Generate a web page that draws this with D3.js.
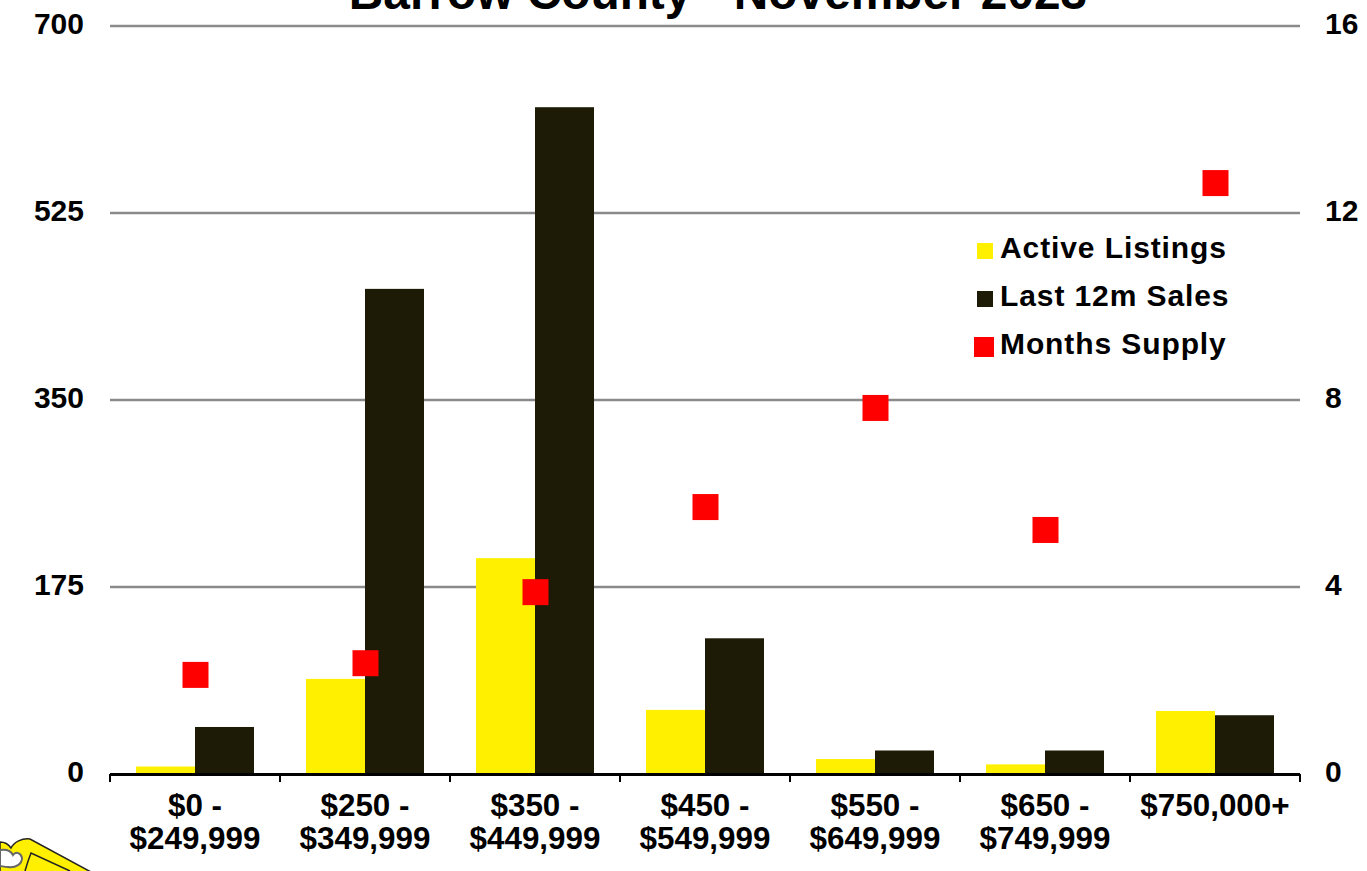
<!DOCTYPE html>
<html><head><meta charset="utf-8">
<script src="https://cdn.jsdelivr.net/npm/d3@7/dist/d3.min.js"></script>
<style>html,body{margin:0;padding:0;background:#fff;overflow:hidden}text{font-family:"Liberation Sans",Arial,sans-serif;font-weight:700;fill:#000}</style>
</head><body><svg id="c" width="1367" height="871"></svg>
<script>
const categories=[["$0 -","$249,999"],["$250 -","$349,999"],["$350 -","$449,999"],["$450 -","$549,999"],["$550 -","$649,999"],["$650 -","$749,999"],["$750,000+"]];
const activeListings=[7,89,202,60,14,9,59];
const lastSales=[44,454,624,127,22,22,55];
const monthsSupply=[2.12,2.37,3.89,5.71,7.83,5.22,12.64];
const leftTicks=[0,175,350,525,700];
const rightTicks=[0,4,8,12,16];
const legendItems=["Active Listings","Last 12m Sales","Months Supply"];
const YEL="#FFF000",DARK="#1D1A05",RED="#FF0000";
const svg=d3.select("#c");
const x=d3.scaleBand().domain(d3.range(categories.length)).range([110,1300]);
const y=d3.scaleLinear().domain([0,700]).range([774,26]);
const yr=d3.scaleLinear().domain([0,16]).range([774,26]);
const barW=59;
svg.append("text").attr("x",718).attr("y",9).attr("text-anchor","middle").attr("font-size",47.8).text("Barrow County - November 2023");
svg.append("g").selectAll("line").data(leftTicks.slice(1)).join("line").attr("x1",110).attr("x2",1300).attr("y1",d=>y(d)).attr("y2",d=>y(d)).attr("stroke","#8a8a8a").attr("stroke-width",2.4);
const cx=i=>x(i)+x.bandwidth()/2;
svg.append("g").selectAll("rect").data(activeListings).join("rect").attr("x",(d,i)=>cx(i)-barW).attr("width",barW).attr("y",d=>y(d)).attr("height",d=>y(0)-y(d)).attr("fill",YEL);
svg.append("g").selectAll("rect").data(lastSales).join("rect").attr("x",(d,i)=>cx(i)).attr("width",barW).attr("y",d=>y(d)).attr("height",d=>y(0)-y(d)).attr("fill",DARK);
svg.append("g").selectAll("rect").data(monthsSupply).join("rect").attr("x",(d,i)=>cx(i)-12.5).attr("y",d=>yr(d)-13).attr("width",26).attr("height",26).attr("fill",RED);
const ax=svg.append("g");
ax.append("line").attr("x1",110).attr("x2",1300).attr("y1",774.5).attr("y2",774.5).attr("stroke","#000").attr("stroke-width",3);
ax.selectAll("line.t").data(d3.range(categories.length+1)).join("line").attr("class","t").attr("x1",d=>110+d*x.step()).attr("x2",d=>110+d*x.step()).attr("y1",774).attr("y2",782).attr("stroke","#000").attr("stroke-width",2);
svg.append("g").selectAll("text").data(leftTicks).join("text").attr("x",84).attr("y",d=>y(d)+8).attr("text-anchor","end").attr("font-size",30).text(d=>d);
svg.append("g").selectAll("text").data(rightTicks).join("text").attr("x",1325).attr("y",d=>yr(d)+8).attr("font-size",30).text(d=>d);
const cat=svg.append("g").selectAll("text").data(categories).join("text").attr("text-anchor","middle").attr("font-size",31.4);
cat.each(function(d,i){d3.select(this).selectAll("tspan").data(d).join("tspan").attr("x",cx(i)).attr("y",(t,j)=>816+j*33).text(t=>t);});
const lg=svg.append("g").selectAll("g").data(legendItems).join("g");
const ly=[248,296,344], ms=[16,16,20], mc=[985,985,984];
lg.append("rect").attr("x",(d,i)=>mc[i]-ms[i]/2).attr("y",(d,i)=>ly[i]+3-ms[i]/2).attr("width",(d,i)=>ms[i]).attr("height",(d,i)=>ms[i]).attr("fill",(d,i)=>[YEL,DARK,RED][i]);
lg.append("text").attr("x",1000).attr("y",(d,i)=>ly[i]+10).attr("font-size",30).attr("letter-spacing",0.9).text(d=>d);
const logo=svg.append("g");
logo.append("path").attr("d","M0 842 C5 842 9 845 11 848 C14 842 22 838 30 839 L91 872 L0 872 Z").attr("fill",YEL).attr("stroke","#222").attr("stroke-width",1.5);
logo.append("path").attr("d","M25 871 C27 864 29 858 31 853 L70 871").attr("fill","none").attr("stroke","#222").attr("stroke-width",1.5);
logo.append("path").attr("d","M0 850 C6 849 11 851 13 855 C16 851 21 853 22 858 C22 864 16 868 8 867 C4 867 2 866 0 866 Z").attr("fill","#fff").attr("stroke","#666").attr("stroke-width",2);
</script></body></html>
